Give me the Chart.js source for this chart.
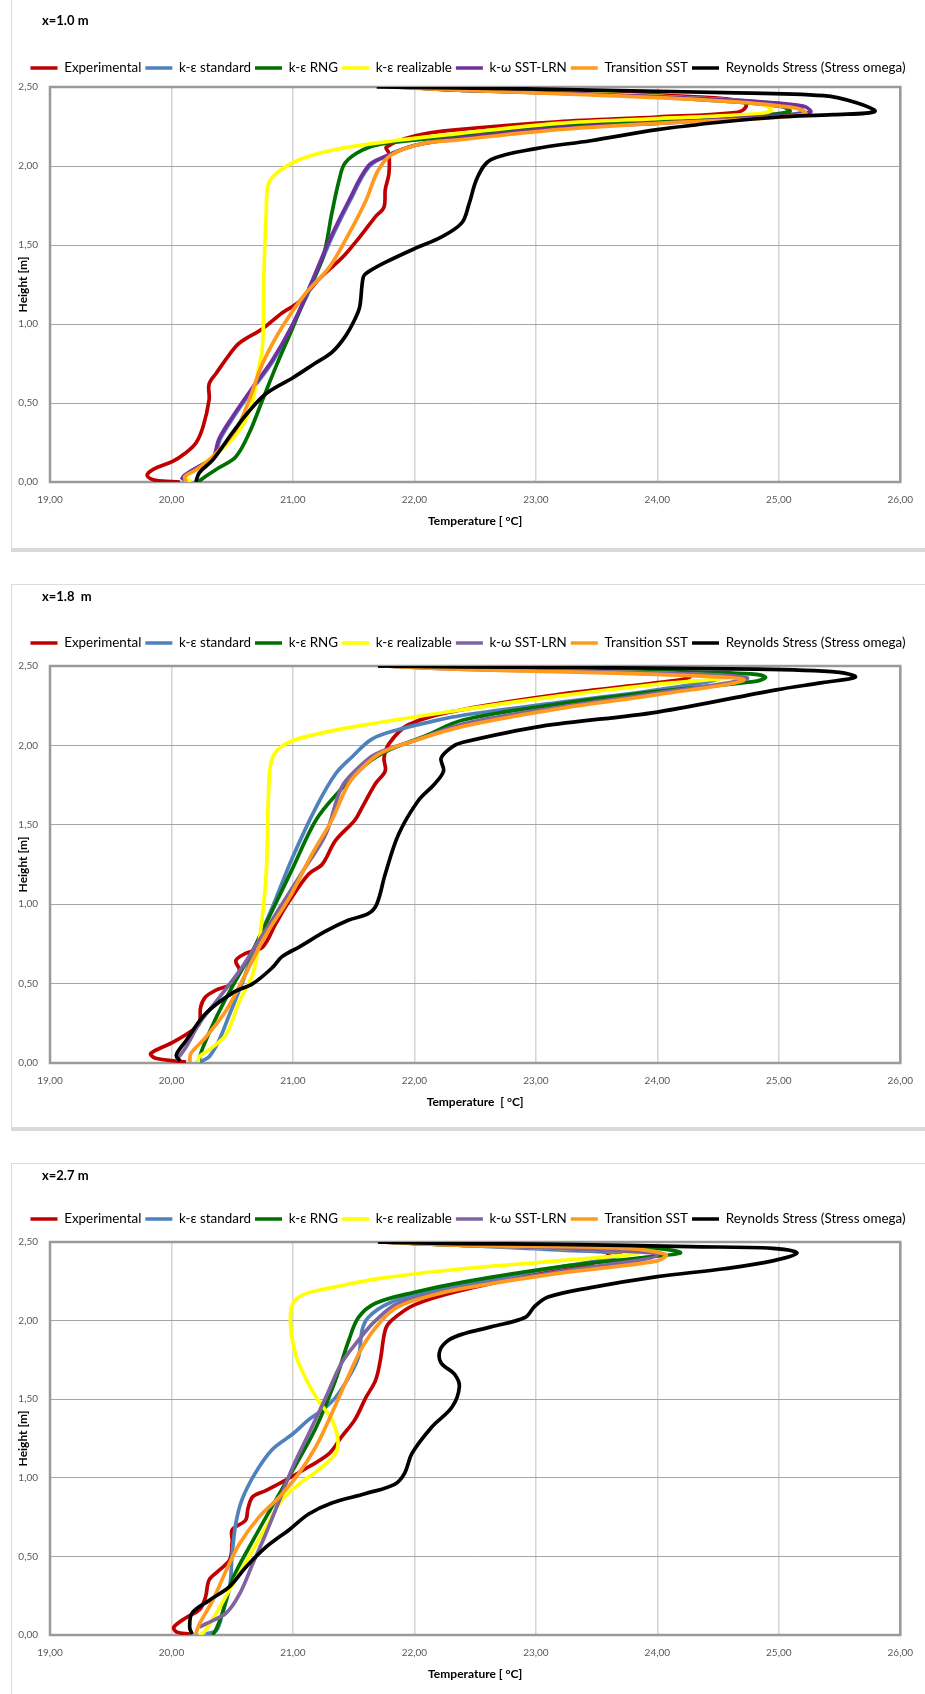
<!DOCTYPE html>
<html>
<head>
<meta charset="utf-8">
<script src="https://cdn.jsdelivr.net/npm/chart.js@4.4.1/dist/chart.umd.min.js"></script>
<style>
  body { margin: 0; background: #fff; }
  #page { position: relative; width: 925px; height: 1694px; overflow: hidden; background: #fff; }
  .frame { position: absolute; left: 11px; width: 930px; box-sizing: border-box;
           border: 1px solid #dcdcdc; border-bottom: 4px solid #dadada; }
  canvas { position: absolute; left: 11px; }
</style>
</head>
<body>
<div id="page">
  <div class="frame" style="top:-4px;height:556px"></div>
  <div class="frame" style="top:584px;height:547px"></div>
  <div class="frame" style="top:1163px;height:600px"></div>
  <canvas id="c1" width="914" height="538" style="top:0"></canvas>
  <canvas id="c2" width="914" height="534" style="top:585px"></canvas>
  <canvas id="c3" width="914" height="528" style="top:1163px"></canvas>
</div>
<script>
const seriesNames = ['Experimental', 'k-ε standard', 'k-ε RNG', 'k-ε realizable', 'k-ω SST-LRN', 'Transition SST', 'Reynolds Stress (Stress omega)'];
const tempTicks = [19, 20, 21, 22, 23, 24, 25, 26];
const heightTicks = [0, 0.5, 1, 1.5, 2, 2.5];

// [temperature °C, height m] — x = 1.0 m
const exp1 = [[20.07,0],[19.87,0.01],[19.80,0.04],[19.85,0.08],[20.01,0.13],[20.11,0.18],[20.20,0.245],[20.26,0.35],[20.31,0.52],[20.31,0.62],[20.37,0.69],[20.48,0.81],[20.56,0.88],[20.75,0.97],[20.91,1.07],[21.05,1.14],[21.21,1.28],[21.35,1.38],[21.43,1.44],[21.57,1.57],[21.68,1.68],[21.75,1.74],[21.76,1.85],[21.79,1.95],[21.79,2.08],[21.77,2.12],[22.0,2.19],[22.36,2.23],[23.18,2.28],[24.0,2.31],[24.66,2.34],[24.73,2.375],[24.71,2.41],[24.27,2.44],[23.45,2.47],[22.36,2.49],[21.8,2.5]];
const std1 = [[20.09,0.01],[20.12,0.045],[20.24,0.10],[20.35,0.15],[20.40,0.27],[20.51,0.41],[20.68,0.60],[20.84,0.77],[21.0,1.0],[21.14,1.22],[21.31,1.53],[21.47,1.78],[21.62,1.99],[21.76,2.06],[22.0,2.13],[22.44,2.18],[23.18,2.24],[24.0,2.275],[24.82,2.31],[25.2,2.34],[25.15,2.38],[24.55,2.42],[23.45,2.455],[22.36,2.48],[21.9,2.5]];
const rng1 = [[20.22,0],[20.28,0.035],[20.39,0.09],[20.53,0.16],[20.64,0.31],[20.75,0.52],[20.86,0.73],[21.0,0.98],[21.13,1.22],[21.25,1.43],[21.32,1.70],[21.38,1.91],[21.43,2.02],[21.57,2.10],[21.73,2.14],[22.36,2.19],[23.18,2.25],[24.0,2.29],[24.82,2.32],[25.09,2.345],[25.03,2.375],[24.55,2.41],[23.45,2.46],[22.36,2.48],[21.9,2.5]];
const real1 = [[20.16,0],[20.12,0.035],[20.23,0.10],[20.37,0.18],[20.50,0.27],[20.61,0.39],[20.67,0.52],[20.71,0.69],[20.75,0.86],[20.76,1.28],[20.78,1.70],[20.80,1.89],[20.89,1.97],[21.05,2.04],[21.32,2.10],[21.73,2.15],[22.36,2.205],[23.18,2.27],[24.0,2.30],[24.82,2.33],[24.94,2.355],[24.82,2.40],[24.27,2.43],[23.45,2.46],[22.36,2.485],[21.85,2.5]];
const sst1 = [[20.08,0.015],[20.11,0.044],[20.23,0.10],[20.34,0.15],[20.39,0.27],[20.50,0.41],[20.67,0.60],[20.83,0.77],[21.0,1.0],[21.13,1.22],[21.30,1.53],[21.46,1.78],[21.62,2.0],[21.76,2.06],[22.0,2.13],[22.36,2.175],[23.18,2.24],[24.0,2.27],[24.82,2.31],[25.26,2.34],[25.2,2.38],[24.55,2.42],[23.45,2.455],[22.36,2.48],[21.9,2.5]];
const trans1 = [[20.12,0],[20.11,0.035],[20.20,0.076],[20.34,0.16],[20.53,0.33],[20.64,0.52],[20.75,0.75],[20.91,0.98],[21.10,1.19],[21.30,1.36],[21.46,1.57],[21.60,1.78],[21.70,1.97],[21.81,2.07],[22.06,2.14],[22.36,2.165],[23.18,2.23],[24.0,2.27],[24.82,2.30],[25.22,2.33],[25.15,2.365],[24.55,2.41],[23.45,2.45],[22.36,2.48],[21.8,2.5]];
const rsm1 = [[20.20,0],[20.23,0.06],[20.34,0.14],[20.50,0.31],[20.63,0.44],[20.78,0.56],[21.0,0.66],[21.18,0.75],[21.32,0.82],[21.43,0.92],[21.51,1.03],[21.55,1.11],[21.58,1.30],[21.62,1.33],[21.76,1.39],[22.01,1.48],[22.22,1.55],[22.39,1.64],[22.45,1.76],[22.52,1.93],[22.63,2.04],[23.0,2.11],[23.45,2.16],[24.0,2.23],[24.55,2.28],[25.0,2.31],[25.45,2.325],[25.79,2.345],[25.64,2.40],[25.37,2.445],[24.55,2.465],[23.45,2.48],[22.36,2.495],[21.69,2.5]];

// x = 1.8 m
const exp2 = [[20.12,0.006],[19.87,0.03],[19.83,0.06],[20.01,0.13],[20.17,0.205],[20.23,0.25],[20.24,0.35],[20.28,0.415],[20.37,0.46],[20.50,0.50],[20.56,0.58],[20.53,0.645],[20.61,0.69],[20.75,0.73],[20.86,0.88],[20.97,1.02],[21.13,1.19],[21.24,1.25],[21.35,1.40],[21.51,1.53],[21.57,1.61],[21.68,1.76],[21.76,1.84],[21.75,1.92],[21.79,2.01],[21.95,2.13],[22.36,2.22],[23.18,2.32],[24.0,2.395],[24.27,2.43],[24.0,2.46],[23.18,2.47],[22.36,2.49],[21.7,2.5]];
const std2 = [[20.23,0.006],[20.31,0.04],[20.39,0.14],[20.48,0.31],[20.58,0.50],[20.69,0.73],[20.83,0.98],[21.0,1.30],[21.19,1.61],[21.35,1.82],[21.49,1.93],[21.65,2.04],[21.87,2.10],[22.14,2.15],[22.40,2.19],[23.18,2.27],[24.0,2.35],[24.52,2.425],[24.0,2.45],[23.18,2.47],[22.36,2.485],[21.75,2.5]];
const rng2 = [[20.22,0.006],[20.26,0.10],[20.37,0.29],[20.50,0.48],[20.67,0.71],[20.83,0.96],[21.0,1.23],[21.19,1.53],[21.38,1.71],[21.60,1.88],[21.79,1.97],[22.09,2.06],[22.40,2.16],[23.18,2.26],[24.0,2.34],[24.82,2.405],[24.89,2.43],[24.77,2.45],[24.0,2.465],[22.36,2.485],[21.75,2.5]];
const real2 = [[20.22,0.006],[20.23,0.04],[20.34,0.10],[20.45,0.18],[20.56,0.39],[20.67,0.56],[20.73,0.81],[20.78,1.19],[20.80,1.71],[20.83,1.92],[20.94,2.01],[21.19,2.07],[21.60,2.13],[22.40,2.225],[23.18,2.31],[24.0,2.385],[24.6,2.43],[24.0,2.455],[22.36,2.485],[21.75,2.5]];
const sst2 = [[20.04,0.017],[20.12,0.10],[20.23,0.25],[20.37,0.39],[20.56,0.58],[20.72,0.77],[20.91,1.0],[21.10,1.23],[21.27,1.44],[21.40,1.735],[21.54,1.86],[21.68,1.945],[22.0,2.03],[22.40,2.135],[23.18,2.24],[24.0,2.33],[24.74,2.42],[24.27,2.45],[22.36,2.48],[21.75,2.5]];
const trans2 = [[20.15,0.006],[20.16,0.06],[20.28,0.16],[20.45,0.33],[20.61,0.56],[20.78,0.81],[20.97,1.04],[21.16,1.32],[21.32,1.53],[21.46,1.76],[21.60,1.88],[21.73,1.955],[22.0,2.03],[22.40,2.12],[23.18,2.23],[24.0,2.32],[24.71,2.41],[24.27,2.44],[22.36,2.48],[21.75,2.5]];
const rsm2 = [[20.07,0.013],[20.04,0.05],[20.12,0.14],[20.28,0.31],[20.50,0.44],[20.67,0.50],[20.83,0.60],[20.91,0.67],[21.05,0.73],[21.27,0.83],[21.46,0.90],[21.62,0.94],[21.69,1.0],[21.76,1.19],[21.87,1.44],[22.03,1.65],[22.17,1.76],[22.24,1.84],[22.22,1.92],[22.31,1.99],[22.40,2.02],[23.04,2.12],[24.0,2.21],[24.98,2.35],[25.36,2.395],[25.63,2.43],[25.5,2.46],[24.82,2.48],[22.36,2.495],[21.7,2.5]];

// x = 2.7 m
const exp3 = [[20.15,0.006],[20.04,0.02],[20.02,0.05],[20.12,0.11],[20.23,0.16],[20.28,0.24],[20.31,0.35],[20.39,0.41],[20.48,0.48],[20.50,0.60],[20.50,0.67],[20.61,0.73],[20.63,0.805],[20.67,0.88],[20.78,0.92],[20.94,0.985],[21.13,1.07],[21.30,1.155],[21.40,1.26],[21.51,1.37],[21.60,1.51],[21.68,1.62],[21.72,1.75],[21.76,1.94],[21.81,2.0],[22.0,2.10],[22.40,2.195],[22.91,2.28],[23.45,2.36],[23.6,2.43],[23.18,2.46],[22.36,2.48],[21.7,2.5]];
const std3 = [[20.28,0.006],[20.37,0.03],[20.42,0.14],[20.48,0.31],[20.50,0.52],[20.53,0.71],[20.58,0.86],[20.69,1.03],[20.83,1.18],[21.0,1.28],[21.13,1.37],[21.24,1.43],[21.35,1.51],[21.46,1.64],[21.54,1.77],[21.57,1.94],[21.62,2.02],[21.79,2.11],[22.09,2.18],[22.40,2.23],[23.04,2.32],[23.70,2.42],[23.18,2.45],[22.36,2.48],[21.75,2.5]];
const rng3 = [[20.34,0],[20.37,0.04],[20.42,0.14],[20.50,0.35],[20.67,0.60],[20.83,0.82],[21.0,1.05],[21.19,1.32],[21.35,1.62],[21.46,1.875],[21.54,2.02],[21.68,2.11],[22.0,2.18],[22.40,2.245],[23.18,2.34],[23.86,2.40],[24.19,2.43],[24.0,2.46],[23.18,2.47],[22.36,2.48],[21.75,2.5]];
const real3 = [[20.23,0],[20.28,0.03],[20.37,0.14],[20.48,0.29],[20.64,0.50],[20.78,0.69],[20.91,0.86],[21.05,0.96],[21.21,1.05],[21.35,1.155],[21.37,1.24],[21.32,1.37],[21.21,1.49],[21.10,1.64],[21.02,1.79],[20.98,1.98],[21.0,2.11],[21.10,2.17],[21.32,2.21],[21.73,2.27],[22.40,2.33],[23.18,2.38],[23.84,2.43],[23.18,2.46],[22.36,2.48],[21.75,2.5]];
const sst3 = [[20.23,0.05],[20.28,0.07],[20.45,0.14],[20.56,0.26],[20.67,0.455],[20.78,0.65],[20.89,0.86],[21.0,1.07],[21.13,1.28],[21.27,1.51],[21.40,1.73],[21.54,1.875],[21.68,2.0],[21.87,2.11],[22.40,2.21],[23.18,2.31],[24.0,2.415],[23.18,2.46],[22.36,2.48],[21.75,2.5]];
const trans3 = [[20.20,0.006],[20.23,0.07],[20.34,0.22],[20.45,0.41],[20.56,0.58],[20.72,0.75],[20.89,0.88],[21.05,1.03],[21.19,1.20],[21.32,1.41],[21.43,1.60],[21.57,1.83],[21.73,2.0],[21.87,2.09],[22.14,2.16],[22.40,2.205],[23.18,2.30],[24.0,2.38],[24.07,2.42],[23.73,2.46],[22.36,2.48],[21.75,2.5]];
const rsm3 = [[20.17,0.006],[20.15,0.05],[20.17,0.14],[20.31,0.22],[20.48,0.31],[20.61,0.43],[20.78,0.56],[20.97,0.67],[21.13,0.77],[21.32,0.84],[21.60,0.90],[21.84,0.96],[21.92,1.03],[21.98,1.155],[22.14,1.32],[22.31,1.45],[22.37,1.58],[22.33,1.66],[22.22,1.73],[22.21,1.81],[22.28,1.875],[22.40,1.915],[22.63,1.96],[22.91,2.02],[22.99,2.09],[23.10,2.15],[23.45,2.21],[24.0,2.28],[24.55,2.33],[24.95,2.38],[25.15,2.43],[24.95,2.46],[24.27,2.47],[23.18,2.485],[22.36,2.49],[21.7,2.5]];

const lineColors = ['#c00000', '#4f81bd', '#007000', '#ffff00', '#7030a0', '#ff9a1f', '#000000'];
const lavender = '#8064a2';

Chart.defaults.font.family = 'Lato';
Chart.defaults.color = '#000';

const LEGEND_FONT = 13.4;
const LEGEND_PAD = 4;
const legendMid = LEGEND_PAD + LEGEND_FONT / 2;

const fmt = v => v.toFixed(2).replace('.', ',');

// grey box round the plot area, under the curves
const plotFrame = {
  id: 'plotFrame',
  beforeDatasetsDraw(chart) {
    const { ctx, chartArea: a } = chart;
    ctx.save();
    ctx.strokeStyle = '#9a9a9a';
    ctx.lineWidth = 2.5;
    ctx.strokeRect(a.left, a.top, a.width, a.height);
    ctx.restore();
  }
};

// one-row legend across the whole canvas, fixed legend height, heading moved right
function headLayout(lay) {
  return {
    id: 'headLayout',
    beforeLayout(chart) {
      const lg = chart.legend;
      if (lg && !lg._oneRow) {
        const fit = lg.fit;
        lg.fit = function () {
          this.maxWidth = chart.width;
          fit.call(this);
          this.height = lay.plotTop - (lay.legendY - legendMid);
        };
        lg._oneRow = true;
      }
    },
    afterLayout(chart) {
      chart.titleBlock.left = 31;
      chart.legend.left = 0;
      chart.legend.right = chart.width;
      chart.legend.width = chart.width;
    }
  };
}

function makePanel(id, heading, xTitle, lines, colors, lay) {
  new Chart(document.getElementById(id), {
    type: 'scatter',
    data: {
      datasets: lines.map((pts, i) => ({
        label: seriesNames[i],
        data: pts.map(p => ({ x: p[0], y: p[1] })),
        showLine: true,
        borderColor: colors[i],
        backgroundColor: colors[i],
        borderWidth: 3.7,
        pointRadius: 0,
        tension: 0.35,
        order: lines.length - 1 - i
      }))
    },
    options: {
      responsive: false,
      animation: false,
      layout: { padding: { left: 4, right: 20, top: 0, bottom: 10 } },
      plugins: {
        title: {
          display: true,
          text: heading,
          align: 'start',
          color: '#000',
          font: { size: 13, weight: 'bold' },
          padding: { top: lay.titleY - 7.8, bottom: lay.legendY - lay.titleY - 7.8 - legendMid }
        },
        legend: {
          position: 'top',
          labels: {
            usePointStyle: true,
            pointStyle: 'line',
            pointStyleWidth: 27,
            padding: LEGEND_PAD,
            color: '#000',
            font: { size: LEGEND_FONT },
            sort: (a, b) => a.datasetIndex - b.datasetIndex
          }
        },
        tooltip: { enabled: false }
      },
      scales: {
        x: {
          type: 'linear',
          min: 19,
          max: 26,
          afterBuildTicks: s => { s.ticks = tempTicks.map(v => ({ value: v })); },
          afterFit: s => { s.height = 46; },
          ticks: { padding: 12, color: '#595959', font: { size: 10 }, callback: fmt },
          grid: { color: '#d4d4d4', lineWidth: 1.5, drawTicks: false },
          border: { display: false },
          title: { display: true, text: xTitle, color: '#000', font: { size: 12, weight: 'bold' }, padding: 0 }
        },
        y: {
          min: 0,
          max: 2.5,
          afterBuildTicks: s => { s.ticks = heightTicks.map(v => ({ value: v })); },
          afterFit: s => { s.width = 35; },
          ticks: { padding: 12, color: '#595959', font: { size: 10 }, callback: fmt },
          grid: { color: '#a6a6a6', lineWidth: 1, drawTicks: false },
          border: { display: false },
          title: { display: true, text: 'Height [m]', color: '#000', font: { size: 12, weight: 'bold' }, padding: { top: 1, bottom: 0 } }
        }
      }
    },
    plugins: [plotFrame, headLayout(lay)]
  });
}

const colors23 = lineColors.map((c, i) => i === 4 ? lavender : c);

makePanel('c1', 'x=1.0 m', 'Temperature [ °C]',
  [exp1, std1, rng1, real1, sst1, trans1, rsm1], lineColors,
  { titleY: 21, legendY: 68, plotTop: 87 });
makePanel('c2', 'x=1.8  m', 'Temperature  [ °C]',
  [exp2, std2, rng2, real2, sst2, trans2, rsm2], colors23,
  { titleY: 12, legendY: 58, plotTop: 81 });
makePanel('c3', 'x=2.7 m', 'Temperature [ °C]',
  [exp3, std3, rng3, real3, sst3, trans3, rsm3], colors23,
  { titleY: 13, legendY: 56, plotTop: 79 });
</script>
</body>
</html>
